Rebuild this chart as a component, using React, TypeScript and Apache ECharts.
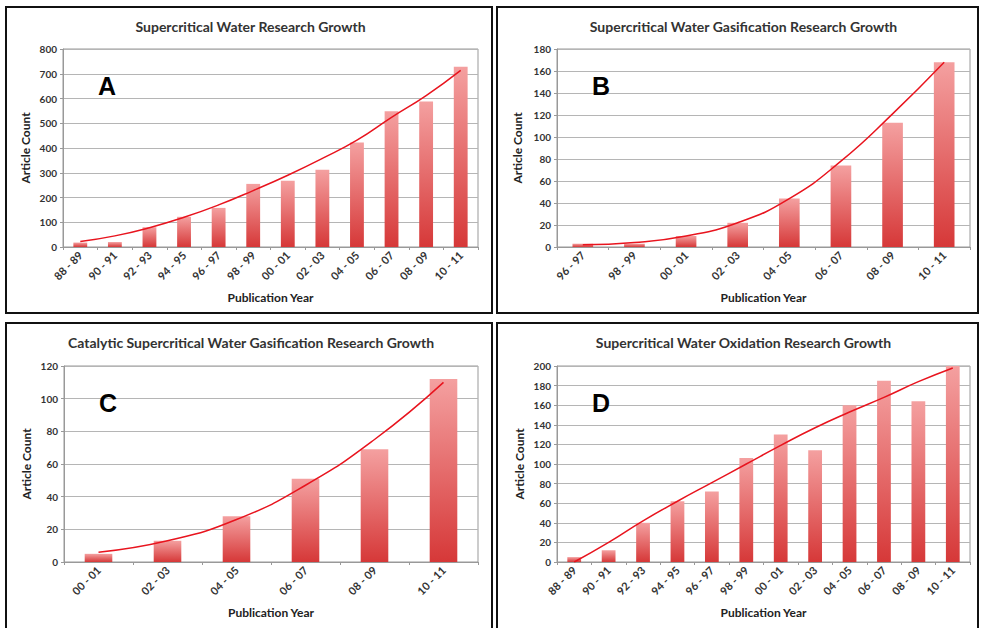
import React, { useEffect, useRef } from "react";
import * as echarts from "echarts";

const catsLong = ["88 - 89", "90 - 91", "92 - 93", "94 - 95", "96 - 97", "98 - 99", "00 - 01", "02 - 03", "04 - 05", "06 - 07", "08 - 09", "10 - 11"];
const catsB = ["96 - 97", "98 - 99", "00 - 01", "02 - 03", "04 - 05", "06 - 07", "08 - 09", "10 - 11"];
const catsC = ["00 - 01", "02 - 03", "04 - 05", "06 - 07", "08 - 09", "10 - 11"];

const barsA = [18, 20, 80, 122, 158, 255, 268, 312, 422, 548, 588, 728];
const trendA = [22, 45, 78, 120, 170, 228, 290, 358, 432, 524, 612, 714];
const barsB = [3, 3, 10, 22, 44, 74, 113, 168];
const trendB = [2, 4, 10, 22, 44, 78, 121, 168];
const barsC = [5, 13, 28, 51, 69, 112];
const trendC = [6, 13, 26, 47, 75, 110];
const barsD = [5, 12, 40, 62, 72, 106, 130, 114, 160, 185, 164, 200];
const trendD = [0, 20, 42, 62, 81, 100, 119, 137, 153, 168, 184, 198];

const titles = [
  "Supercritical Water Research Growth",
  "Supercritical Water Gasification Research Growth",
  "Catalytic Supercritical Water Gasification Research Growth",
  "Supercritical Water Oxidation Research Growth",
];
const letters = ["A", "B", "C", "D"];
const yMax = [800, 180, 120, 200];
const yStep = [100, 20, 20, 20];

export default function App() {
  const ref = useRef<HTMLDivElement>(null);
  useEffect(() => {
    document.body.style.margin = "0";
    const chart = echarts.init(ref.current!, null, { renderer: "svg" });
    const font = "Lato, 'Open Sans', sans-serif";
    const grids = [
      { left: 63, top: 49, width: 415, height: 198 },
      { left: 557, top: 49, width: 413, height: 198 },
      { left: 64, top: 366, width: 414, height: 196 },
      { left: 557, top: 366, width: 413, height: 196 },
    ];
    const cats = [catsLong, catsB, catsC, catsLong];
    const bars = [barsA, barsB, barsC, barsD];
    const trends = [trendA, trendB, trendC, trendD];
    const panels = [
      { x: 6, y: 7, w: 486, h: 306 },
      { x: 497, y: 7, w: 481, h: 306 },
      { x: 6, y: 323, w: 486, h: 320 },
      { x: 497, y: 323, w: 481, h: 320 },
    ];
    const grad = new echarts.graphic.LinearGradient(0, 0, 0, 1, [
      { offset: 0, color: "#f4a0a0" },
      { offset: 1, color: "#d63838" },
    ]);
    const graphic: any[] = [];
    panels.forEach((p, i) => {
      graphic.push({
        type: "rect",
        shape: { x: p.x, y: p.y, width: p.w, height: p.h },
        style: { fill: "none", stroke: "#111", lineWidth: 2 },
        z: 10,
      });
      const g = grids[i];
      graphic.push({
        type: "text",
        x: g.left + g.width / 2 - 20,
        y: p.y + 19,
        style: {
          text: titles[i],
          font: `bold 14px ${font}`,
          fill: "#333",
          align: "center",
          verticalAlign: "middle",
        },
        z: 10,
      });
      graphic.push({
        type: "text",
        x: g.left + 44,
        y: g.top + 37,
        style: {
          text: letters[i],
          font: "bold 25px 'Liberation Sans', Arial, sans-serif",
          fill: "#000",
          align: "center",
          verticalAlign: "middle",
        },
        z: 10,
      });
    });

    const axisLabelStyle = { color: "#333", fontSize: 10, fontWeight: "bold" as const, fontFamily: font };
    const nameStyle = { color: "#222", fontSize: 12, fontWeight: "bold" as const, fontFamily: font };

    chart.setOption({
      animation: false,
      backgroundColor: "#fff",
      grid: grids.map((g) => ({ ...g, show: true, borderColor: "#999", borderWidth: 1 })),
      xAxis: grids.map((_, i) => ({
        type: "category",
        gridIndex: i,
        data: cats[i],
        boundaryGap: true,
        name: "Publication Year",
        nameLocation: "middle",
        nameGap: 44,
        nameTextStyle: nameStyle,
        axisLine: { lineStyle: { color: "#999" } },
        axisTick: { show: true, interval: 0, length: 3, lineStyle: { color: "#999" } },
        axisLabel: { ...axisLabelStyle, fontSize: 11, rotate: 45, interval: 0, margin: 6 },
      })),
      yAxis: grids.map((_, i) => ({
        type: "value",
        gridIndex: i,
        min: 0,
        max: yMax[i],
        interval: yStep[i],
        name: "Article Count",
        nameLocation: "middle",
        nameGap: i === 1 ? 34 : 32,
        nameTextStyle: nameStyle,
        axisLine: { show: true, lineStyle: { color: "#999" } },
        axisTick: { show: true, length: 3, lineStyle: { color: "#999" } },
        axisLabel: { ...axisLabelStyle, margin: 6 },
        splitLine: { lineStyle: { color: "#b5b5b5", width: 1 } },
      })),
      series: [
        ...grids.map((_, i) => ({
          type: "bar",
          xAxisIndex: i,
          yAxisIndex: i,
          data: bars[i],
          barWidth: "40%",
          itemStyle: { color: grad },
        })),
        ...grids.map((_, i) => ({
          type: "line",
          xAxisIndex: i,
          yAxisIndex: i,
          data: trends[i],
          smooth: true,
          symbol: "none",
          lineStyle: { color: "#e8141e", width: 1.5 },
          z: 5,
        })),
      ],
      graphic,
    });
    return () => chart.dispose();
  }, []);
  return <div ref={ref} style={{ width: 982, height: 628 }} />;
}
